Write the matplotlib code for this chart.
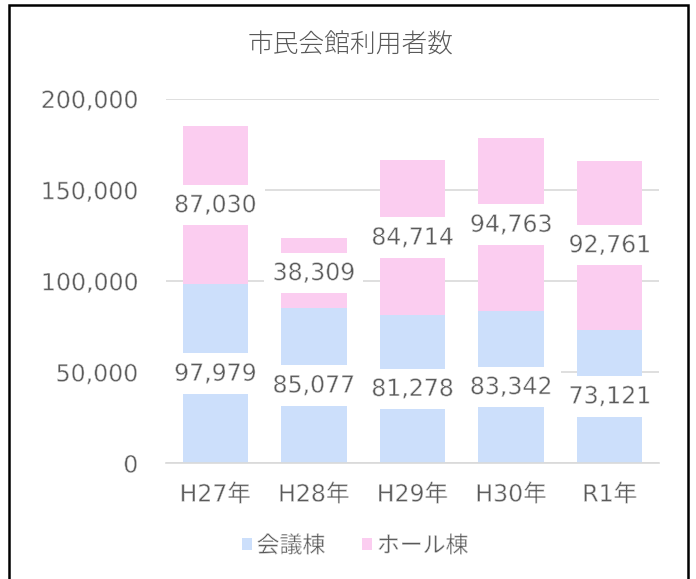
import matplotlib
matplotlib.use("Agg")
import matplotlib.pyplot as plt
import matplotlib.patheffects as pe
from matplotlib.patches import Rectangle
from matplotlib.ticker import FuncFormatter

plt.rcParams['font.family'] = ['DejaVu Sans', 'Noto Sans CJK JP']

categories = ["H27年", "H28年", "H29年", "H30年", "R1年"]
kaigi = [97979, 85077, 81278, 83342, 73121]
hall = [87030, 38309, 84714, 94763, 92761]
series_names = ["会議棟", "ホール棟"]
title = "市民会館利用者数"

c_blue = "#CCDFFB"
c_pink = "#FBCDF0"
txt = "#595959"
grid_c = "#D9D9D9"

thin = [pe.Normal(), pe.Stroke(linewidth=0.4, foreground='white')]

fig = plt.figure(figsize=(6.96, 5.79), dpi=100)
ax = fig.add_axes([166/696, 1-463/579, (659-166)/696, (463-98.5)/579])

x = list(range(len(categories)))
w = 0.665
b1 = ax.bar(x, kaigi, w, color=c_blue, label=series_names[0], zorder=2)
b2 = ax.bar(x, hall, w, bottom=kaigi, color=c_pink, label=series_names[1], zorder=2)

for bars in (b1, b2):
    for r in bars:
        v = r.get_height()
        cy = r.get_y() + v/2
        t = ax.text(r.get_x() + r.get_width()/2, cy, f"{int(v):,}", ha='center', va='center',
                    fontsize=17, color=txt, zorder=4,
                    bbox=dict(boxstyle='square,pad=0.35', fc='white', ec='none'))
        t.set_path_effects(thin)

ax.set_ylim(0, 200000)
ax.set_xlim(-0.5, len(categories) - 0.5)
ax.set_yticks([0, 50000, 100000, 150000, 200000])
ax.yaxis.set_major_formatter(FuncFormatter(lambda v, p: f"{int(v):,}"))
ax.grid(axis='y', color=grid_c, linewidth=1.2, zorder=0)
ax.set_axisbelow(True)
ax.set_xticks(x)
ax.set_xticklabels(categories)
ax.tick_params(axis='y', length=0, pad=20, labelsize=17, labelcolor=txt)
ax.tick_params(axis='x', length=0, pad=14, labelsize=17, labelcolor=txt)
for lab in ax.get_xticklabels() + ax.get_yticklabels():
    lab.set_path_effects(thin)
for s in ['top', 'right', 'left']:
    ax.spines[s].set_visible(False)
ax.spines['bottom'].set_color(grid_c)
ax.spines['bottom'].set_linewidth(1.2)

fig.text(351/696, 1-45/579, title, ha='center', va='center', fontsize=18.5, color=txt,
         family=['Noto Sans CJK JP'], fontweight='light')

leg = ax.legend(loc='center', bbox_to_anchor=(355/696, 1-546/579), bbox_transform=fig.transFigure,
                ncol=2, frameon=False, handlelength=0.45, handleheight=0.45,
                handletextpad=0.2, columnspacing=1.6,
                prop={'family': ['Noto Sans CJK JP'], 'size': 16.5})
for t in leg.get_texts():
    t.set_color(txt)
    t.set_path_effects(thin)

fig.patches.append(Rectangle((9/696, -0.02), (688-9)/696, 1-5/579+0.02, transform=fig.transFigure,
                             fill=False, ec='black', lw=1.8, zorder=10))

fig.savefig("out.png", dpi=100)
